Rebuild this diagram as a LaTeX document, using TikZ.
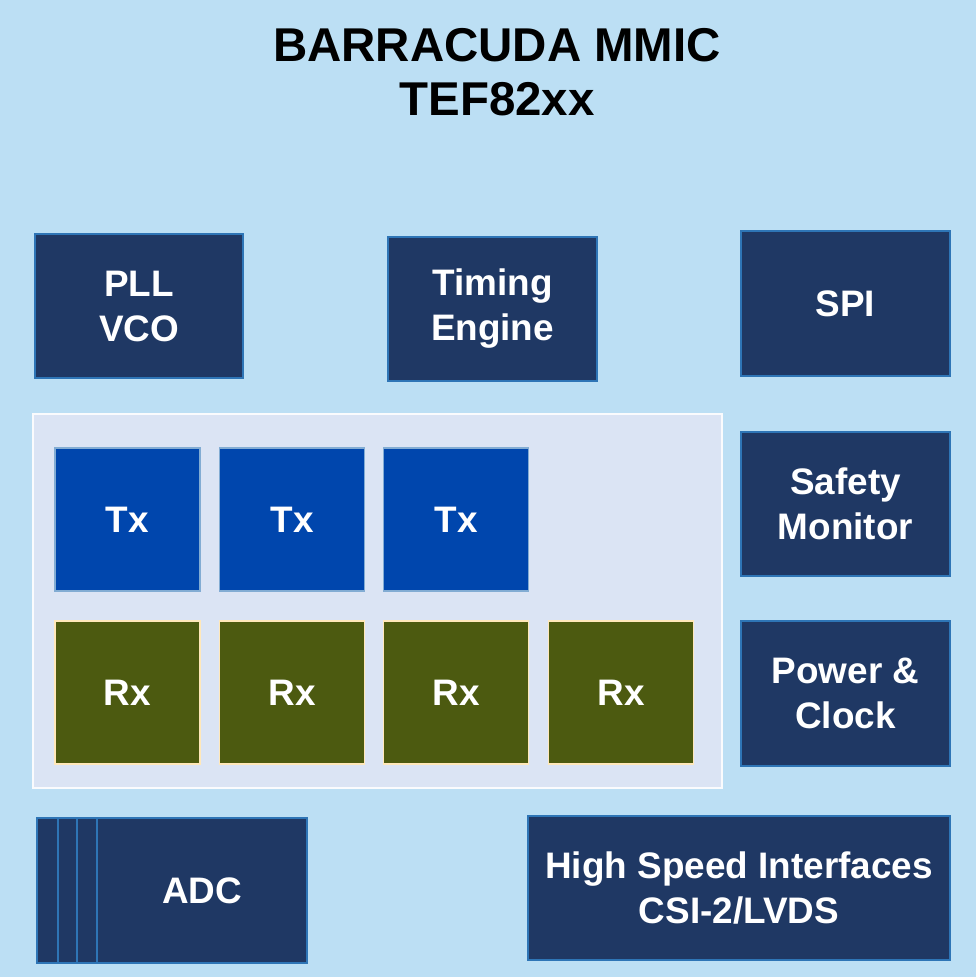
\documentclass[tikz,border=0pt]{standalone}
\usepackage{fontspec}
\setmainfont{Liberation Sans}
\usetikzlibrary{positioning}
\definecolor{chipbg}{RGB}{188,223,244}
\definecolor{panelbg}{RGB}{219,228,244}
\definecolor{navy}{RGB}{31,56,100}
\definecolor{edgeblue}{RGB}{46,117,182}
\definecolor{txblue}{RGB}{0,70,173}
\definecolor{rxolive}{RGB}{76,90,16}
\definecolor{rxedge}{RGB}{255,232,186}

\begin{document}
\begin{tikzpicture}[x=0.02cm, y=-0.02cm, line width=1pt]
  \tikzstyle{block} = [rectangle, draw=edgeblue, fill=navy, text=white, align=center, inner sep=0pt,
    font=\fontsize{21}{25.6}\selectfont\bfseries, minimum width=4.18cm, minimum height=2.88cm]
  \tikzstyle{txbox} = [block, draw=edgeblue!60, fill=txblue, minimum width=2.9cm, minimum height=2.86cm]
  \tikzstyle{rxbox} = [block, draw=rxedge, fill=rxolive, minimum width=2.9cm, minimum height=2.86cm]

  % chip outline
  \fill[chipbg] (0,0) rectangle (976,977);
  \useasboundingbox (0,0) rectangle (976,977);
  \node[align=center, font=\fontsize{27}{31}\selectfont\bfseries] (title) at (497,72) {BARRACUDA MMIC\\TEF82xx};

  % top row
  \node[block, minimum width=4.16cm] (pll) at (139,306) {PLL\\VCO};
  \node[block] (timing) at (492.5,309) {Timing\\Engine};
  \node[block, minimum height=2.9cm] (spi) at (845.5,303.5) {SPI};

  % tx / rx array
  \node[rectangle, draw=white!85!panelbg, fill=panelbg, minimum width=13.78cm, minimum height=7.48cm] (array) at (377.5,601) {};
  \node[txbox] (tx1) at (127.5,519.5) {Tx};
  \node[txbox] (tx2) at (292,519.5) {Tx};
  \node[txbox] (tx3) at (456,519.5) {Tx};
  \node[rxbox] (rx1) at (127.5,692.5) {Rx};
  \node[rxbox] (rx2) at (292,692.5) {Rx};
  \node[rxbox] (rx3) at (456,692.5) {Rx};
  \node[rxbox] (rx4) at (621,692.5) {Rx};

  % right column
  \node[block] (safety) at (845.5,504) {Safety\\Monitor};
  \node[block, minimum height=2.9cm] (power) at (845.5,693.5) {Power \&\\Clock};

  % bottom row
  \draw[edgeblue, fill=navy] (37,818) rectangle (307,963);
  \draw[edgeblue] (58,818) -- (58,963);
  \draw[edgeblue] (77,818) -- (77,963);
  \node[block, minimum width=4.2cm, minimum height=2.9cm] (adc) at (202,890.5) {ADC};
  \node[block, minimum width=8.44cm] (hsi) at (739,888) {High Speed Interfaces\\CSI-2/LVDS};
\end{tikzpicture}
\end{document}
